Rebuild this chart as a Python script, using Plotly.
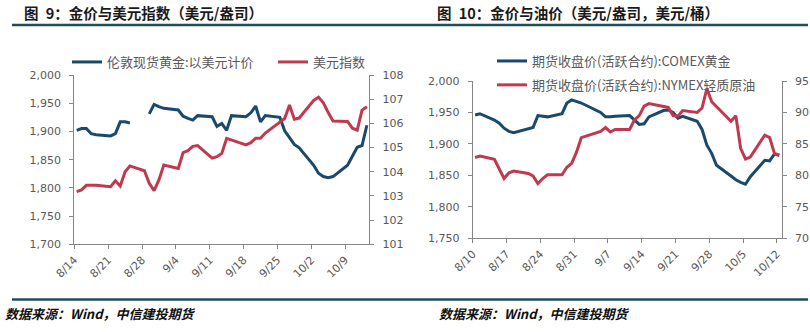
import plotly.graph_objects as go
import pandas as pd

# ---------------- data ----------------
left_dates = [
    "2023-08-14", "2023-08-15", "2023-08-16", "2023-08-17", "2023-08-18",
    "2023-08-21", "2023-08-22", "2023-08-23", "2023-08-24", "2023-08-25",
    "2023-08-28", "2023-08-29", "2023-08-30", "2023-08-31", "2023-09-01",
    "2023-09-04", "2023-09-05", "2023-09-06", "2023-09-07", "2023-09-08",
    "2023-09-11", "2023-09-12", "2023-09-13", "2023-09-14", "2023-09-15",
    "2023-09-18", "2023-09-19", "2023-09-20", "2023-09-21", "2023-09-22",
    "2023-09-25", "2023-09-26", "2023-09-27", "2023-09-28", "2023-09-29",
    "2023-10-02", "2023-10-03", "2023-10-04", "2023-10-05", "2023-10-06",
    "2023-10-09", "2023-10-10", "2023-10-11", "2023-10-12", "2023-10-13",
]
london_gold = [
    1902, 1905, 1905, 1896, 1894,
    1892, 1896, 1917, 1917, 1915,
    None, 1931, 1948, 1944, 1941,
    1938, 1927, 1923, 1920, 1928,
    1926, 1909, 1914, 1902, 1928,
    1926, 1933, 1945, 1917, 1928,
    1925, 1901, 1888, 1877, 1871,
    1840, 1826, 1820, 1818, 1820,
    1840, 1856, 1872, 1875, 1911,
]
usd_index = [
    103.18, 103.25, 103.44, 103.44, 103.44,
    103.38, 103.63, 103.41, 104.00, 104.24,
    104.04, 103.52, 103.22, 103.66, 104.28,
    104.14, 104.79, 104.87, 105.05, 105.08,
    104.56, 104.62, 104.76, 105.38, 105.32,
    105.11, 105.20, 105.38, 105.38, 105.60,
    106.05, 106.20, 106.76, 106.17, 106.22,
    106.95, 107.08, 106.85, 106.45, 106.10,
    106.08, 105.80, 105.72, 106.55, 106.69,
]

right_dates = [
    "2023-08-10", "2023-08-11",
    "2023-08-14", "2023-08-15", "2023-08-16", "2023-08-17", "2023-08-18",
    "2023-08-21", "2023-08-22", "2023-08-23", "2023-08-24", "2023-08-25",
    "2023-08-28", "2023-08-29", "2023-08-30", "2023-08-31", "2023-09-01",
    "2023-09-05", "2023-09-06", "2023-09-07", "2023-09-08",
    "2023-09-11", "2023-09-12", "2023-09-13", "2023-09-14", "2023-09-15",
    "2023-09-18", "2023-09-19", "2023-09-20", "2023-09-21", "2023-09-22",
    "2023-09-25", "2023-09-26", "2023-09-27", "2023-09-28", "2023-09-29",
    "2023-10-02", "2023-10-03", "2023-10-04", "2023-10-05", "2023-10-06",
    "2023-10-09", "2023-10-10", "2023-10-11", "2023-10-12",
]
comex_gold = [
    1946, 1948,
    1938, 1933, 1925, 1920, 1918,
    1924, 1926, 1945, 1944, 1943,
    1948, 1965, 1970, 1967, 1965,
    1950, 1943, 1943, 1944,
    1945, 1938, 1931, 1932, 1943,
    1953, 1954, 1950, 1941, 1944,
    1936, 1923, 1898, 1885, 1866,
    1849, 1843, 1839, 1836, 1848,
    1874, 1873, 1884, 1882,
]
nymex_wti = [
    82.85, 83.07,
    82.55, 81.0, 79.5, 80.4, 80.7,
    80.3, 79.9, 78.7, 79.5, 80.1,
    80.1, 81.3, 81.9, 83.7, 86.0,
    87.0, 87.6, 86.9, 87.3,
    87.3, 88.8, 89.5, 91.0, 91.4,
    91.0, 90.8, 89.5, 89.4, 90.3,
    90.0, 90.7, 93.8, 91.7, 90.9,
    88.6, 89.5, 84.3, 82.6, 82.9,
    86.4, 86.0, 83.5, 83.2,
]

left_names = ["伦敦现货黄金:以美元计价", "美元指数"]
right_names = ["期货收盘价(活跃合约):COMEX黄金", "期货收盘价(活跃合约):NYMEX轻质原油"]
titles = ["图\u20029：金价与美元指数（美元/盎司）", "图\u200210：金价与油价（美元/盎司，美元/桶）"]
source_text = "数据来源：Wind，中信建投期货"

# ---------------- style ----------------
W, H = 810, 332
BLUE = "#1a4a6b"
RED = "#bf3a4f"
AXIS = "#868686"
TICK_FONT = dict(family="DejaVu Sans", size=11, color="#595959")
CJK = "Noto Sans CJK SC"


def mid_day(dates):
    # Excel date axis places each point in the middle of its day
    return pd.to_datetime(dates) + pd.Timedelta(hours=12)


def px_x(x):
    return x / W


def px_y(y):
    return 1 - y / H


fig = go.Figure()
fig.add_trace(go.Scatter(x=mid_day(left_dates), y=london_gold, name=left_names[0], mode="lines",
                         line=dict(color=BLUE, width=3), xaxis="x", yaxis="y", legend="legend",
                         connectgaps=False))
fig.add_trace(go.Scatter(x=mid_day(left_dates), y=usd_index, name=left_names[1], mode="lines",
                         line=dict(color=RED, width=3), xaxis="x", yaxis="y2", legend="legend"))
fig.add_trace(go.Scatter(x=mid_day(right_dates), y=comex_gold, name=right_names[0], mode="lines",
                         line=dict(color=BLUE, width=3), xaxis="x2", yaxis="y3", legend="legend2",
                         legendgroup="a"))
fig.add_trace(go.Scatter(x=mid_day(right_dates), y=nymex_wti, name=right_names[1], mode="lines",
                         line=dict(color=RED, width=3), xaxis="x2", yaxis="y4", legend="legend2",
                         legendgroup="b"))

common = dict(showgrid=False, zeroline=False, showline=True, linecolor=AXIS, linewidth=1,
              ticks="outside", ticklen=4, tickcolor=AXIS, tickfont=TICK_FONT, automargin=False)
DAY = 86400000

fig.update_layout(
    template="none",
    width=W, height=H, margin=dict(l=0, r=0, t=0, b=0, pad=0, autoexpand=False),
    paper_bgcolor="white", plot_bgcolor="white",
    xaxis=dict(domain=[px_x(74.3), px_x(369.3)], anchor="y", type="date",
               range=["2023-08-14", "2023-10-14"], tick0="2023-08-14", dtick=7 * DAY,
               tickformat="%-m/%-d", tickangle=-45, **common),
    yaxis=dict(domain=[px_y(244.3), px_y(75)], anchor="x", range=[1700, 2000], dtick=50,
               tickformat=",", ticklabelstandoff=6, **common),
    yaxis2=dict(overlaying="y", side="right", anchor="x", range=[101, 108], dtick=1,
                ticklabelstandoff=6, **common),
    xaxis2=dict(domain=[px_x(472.7), px_x(781.7)], anchor="y3", type="date",
                range=["2023-08-10", "2023-10-13"], tick0="2023-08-10", dtick=7 * DAY,
                tickformat="%-m/%-d", tickangle=-45, **common),
    yaxis3=dict(domain=[px_y(238.3), px_y(81)], anchor="x2", range=[1750, 2000], dtick=50,
                tickformat=",", ticklabelstandoff=6, **common),
    yaxis4=dict(overlaying="y3", side="right", anchor="x2", range=[70, 95], dtick=5,
                ticklabelstandoff=6, **common),
    legend=dict(orientation="h", x=px_x(67), y=px_y(62), xanchor="left", yanchor="middle",
                font=dict(family=CJK, size=13, color="#595959"), bgcolor="rgba(0,0,0,0)",
                entrywidth=161, entrywidthmode="pixels"),
    legend2=dict(orientation="v", x=px_x(492), y=px_y(73), xanchor="left", yanchor="middle",
                 font=dict(family=CJK, size=13, color="#595959"), bgcolor="rgba(0,0,0,0)",
                 tracegroupgap=4),
    showlegend=True,
)

# titles
for x0, t in zip([22, 435], titles):
    fig.add_annotation(x=px_x(x0), y=px_y(12.5), xref="paper", yref="paper", text=t,
                       showarrow=False, xanchor="left", yanchor="middle",
                       font=dict(family=CJK, size=14.5, color="#1a1a1a", weight="bold"))
# sources
for x0 in [3, 437]:
    fig.add_annotation(x=px_x(x0), y=px_y(313), xref="paper", yref="paper", text=source_text,
                       showarrow=False, xanchor="left", yanchor="middle",
                       font=dict(family=CJK, size=13, color="#111111", weight="bold", style="italic"))

# divider rules
for yy in [25, 299.5]:
    fig.add_shape(type="line", xref="paper", yref="paper", x0=px_x(12), x1=px_x(808),
                  y0=px_y(yy), y1=px_y(yy), line=dict(color="#1f4e5a", width=2.5))

fig.write_html("out.html", post_script="document.body.style.margin='0';")
